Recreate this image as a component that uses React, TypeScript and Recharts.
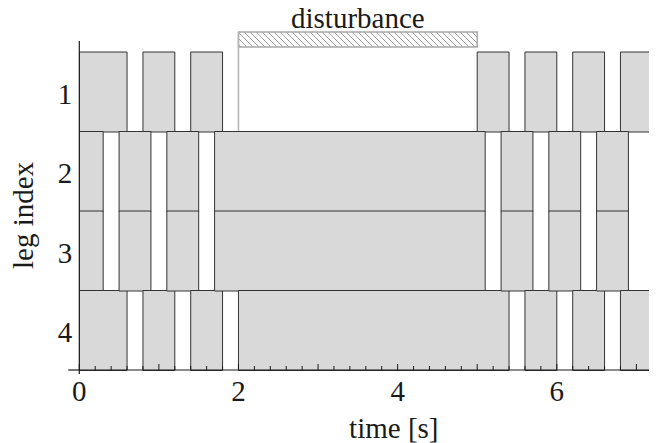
import React from "react";
import {
  BarChart,
  Bar,
  XAxis,
  YAxis,
  ReferenceLine,
  LabelList,
} from "recharts";

// stance phases per leg, [start, end] in seconds
const LEGS = ["1", "2", "3", "4"];
const leg1Stance = [[0, 0.6], [0.8, 1.2], [1.4, 1.8], [5.0, 5.4], [5.6, 6.0], [6.2, 6.6], [6.8, 7.2]];
const leg2Stance = [[0, 0.3], [0.5, 0.9], [1.1, 1.5], [1.7, 5.1], [5.3, 5.7], [5.9, 6.3], [6.5, 6.9]];
const leg3Stance = [[0, 0.3], [0.5, 0.9], [1.1, 1.5], [1.7, 5.1], [5.3, 5.7], [5.9, 6.3], [6.5, 6.9]];
const leg4Stance = [[0, 0.6], [0.8, 1.2], [1.4, 1.8], [2.0, 5.4], [5.6, 6.0], [6.2, 6.6], [6.8, 7.2]];
const stanceByLeg = [leg1Stance, leg2Stance, leg3Stance, leg4Stance];

const disturbance = { name: "disturbance", start: 2, end: 5 };

const X_DOMAIN = [0, 7.2];
const xTicks = Array.from({ length: 37 }, (_, i) => Math.round(i * 2) / 10);
const xLabelTicks = [0, 2, 4, 6];

const FONT = "Liberation Serif";
const INK = "#1a1a1a";
const W = 649;
const H = 435;
const MARGIN_LEFT = 71.3;
const MARGIN_RIGHT = 4.7;

const maxPhases = Math.max(...stanceByLeg.map((s) => s.length));
const rows = LEGS.map((leg, i) => {
  const row: Record<string, string | number> = { leg };
  let prev = 0;
  stanceByLeg[i].forEach(([a, b], k) => {
    row[`g${k}`] = a - prev;
    row[`s${k}`] = b - a;
    prev = b;
  });
  return row;
});

const distRows = [
  { name: disturbance.name, before: disturbance.start, span: disturbance.end - disturbance.start },
];

const textStyle = { fontFamily: FONT, fontSize: 29, fill: INK };

function XTick(props: any) {
  const { x, y, payload } = props;
  const v = payload.value;
  const major = Math.abs(v - Math.round(v)) < 1e-6;
  return (
    <g>
      <line x1={x} x2={x} y1={y} y2={y - (major ? 6 : 4)} stroke={INK} strokeWidth={1} />
      {v === 0 && <line x1={x - 11} x2={x} y1={y} y2={y} stroke={INK} strokeWidth={1.2} />}
      {v === 0 && <line x1={x} x2={x} y1={y} y2={y + 4} stroke={INK} strokeWidth={1.2} />}
      {v === 7.2 && <line x1={x} x2={x + 5} y1={y} y2={y} stroke={INK} strokeWidth={1.2} />}
      {xLabelTicks.includes(v) && (
        <text x={x} y={y + 31} textAnchor="middle" style={textStyle}>
          {v}
        </text>
      )}
    </g>
  );
}

function YTick(props: any) {
  const { x, y, payload } = props;
  return (
    <text x={x - 7} y={y + 12} textAnchor="end" style={textStyle}>
      {payload.value}
    </text>
  );
}

function XLabel(props: any) {
  const { viewBox } = props;
  return (
    <text x={viewBox.x + viewBox.width / 2 + 28} y={viewBox.y + 68} textAnchor="middle" style={textStyle}>
      time [s]
    </text>
  );
}

function YLabel(props: any) {
  const { viewBox } = props;
  const cx = viewBox.x + 4;
  const cy = viewBox.y + viewBox.height / 2 + 10;
  return (
    <text x={cx} y={cy} dy="0.35em" transform={`rotate(-90, ${cx}, ${cy})`} textAnchor="middle" style={textStyle}>
      leg index
    </text>
  );
}

function DisturbanceOverlay() {
  return (
    <BarChart
      width={W}
      height={143}
      data={distRows}
      layout="vertical"
      barCategoryGap={0}
      margin={{ top: 32, right: MARGIN_RIGHT, bottom: 12, left: MARGIN_LEFT }}
    >
      <defs>
        <pattern id="hatch" patternUnits="userSpaceOnUse" width="6" height="6">
          <path d="M0,0 L6,6 M-1,5 L1,7 M5,-1 L7,1" stroke="#9a9a9a" strokeWidth={1} />
        </pattern>
      </defs>
      <XAxis type="number" domain={X_DOMAIN} hide allowDataOverflow />
      <YAxis type="category" dataKey="name" hide width={0} padding={{ top: 0, bottom: 84 }} />
      <ReferenceLine x={disturbance.start} stroke="#b4b4b4" strokeWidth={1.5} />
      <Bar dataKey="before" stackId="d" fill="none" isAnimationActive={false} />
      <Bar dataKey="span" stackId="d" fill="url(#hatch)" stroke="#a8a8a8" strokeWidth={1.5} isAnimationActive={false}>
        <LabelList dataKey="name" position="top" offset={4} style={textStyle} />
      </Bar>
    </BarChart>
  );
}

export default function App() {
  const bars = [];
  for (let k = 0; k < maxPhases; k++) {
    bars.push(
      <Bar key={`g${k}`} dataKey={`g${k}`} stackId="s" fill="none" isAnimationActive={false} />,
      <Bar key={`s${k}`} dataKey={`s${k}`} stackId="s" fill="#d9d9d9" stroke="#333" strokeWidth={1} isAnimationActive={false} />
    );
  }
  return (
    <div style={{ position: "relative", width: W, height: H }}>
      <BarChart
        width={W}
        height={H}
        data={rows}
        layout="vertical"
        barCategoryGap={0}
        barGap={0}
        margin={{ top: 33, right: MARGIN_RIGHT, bottom: 33, left: MARGIN_LEFT - 60 }}
      >
        <XAxis
          type="number"
          domain={X_DOMAIN}
          ticks={xTicks}
          interval={0}
          tick={<XTick />}
          tickSize={0}
          tickMargin={0}
          tickLine={false}
          axisLine={{ stroke: INK, strokeWidth: 1.2 }}
          height={40}
          allowDataOverflow
          label={<XLabel />}
        />
        <YAxis
          type="category"
          dataKey="leg"
          width={60}
          padding={{ top: 11, bottom: 0 }}
          tick={<YTick />}
          tickSize={0}
          tickMargin={0}
          tickLine={false}
          axisLine={{ stroke: INK, strokeWidth: 1.2 }}
          interval={0}
          label={<YLabel />}
        />
        {bars}
      </BarChart>
      <div style={{ position: "absolute", left: 0, top: -8, pointerEvents: "none" }}>
        <DisturbanceOverlay />
      </div>
    </div>
  );
}
